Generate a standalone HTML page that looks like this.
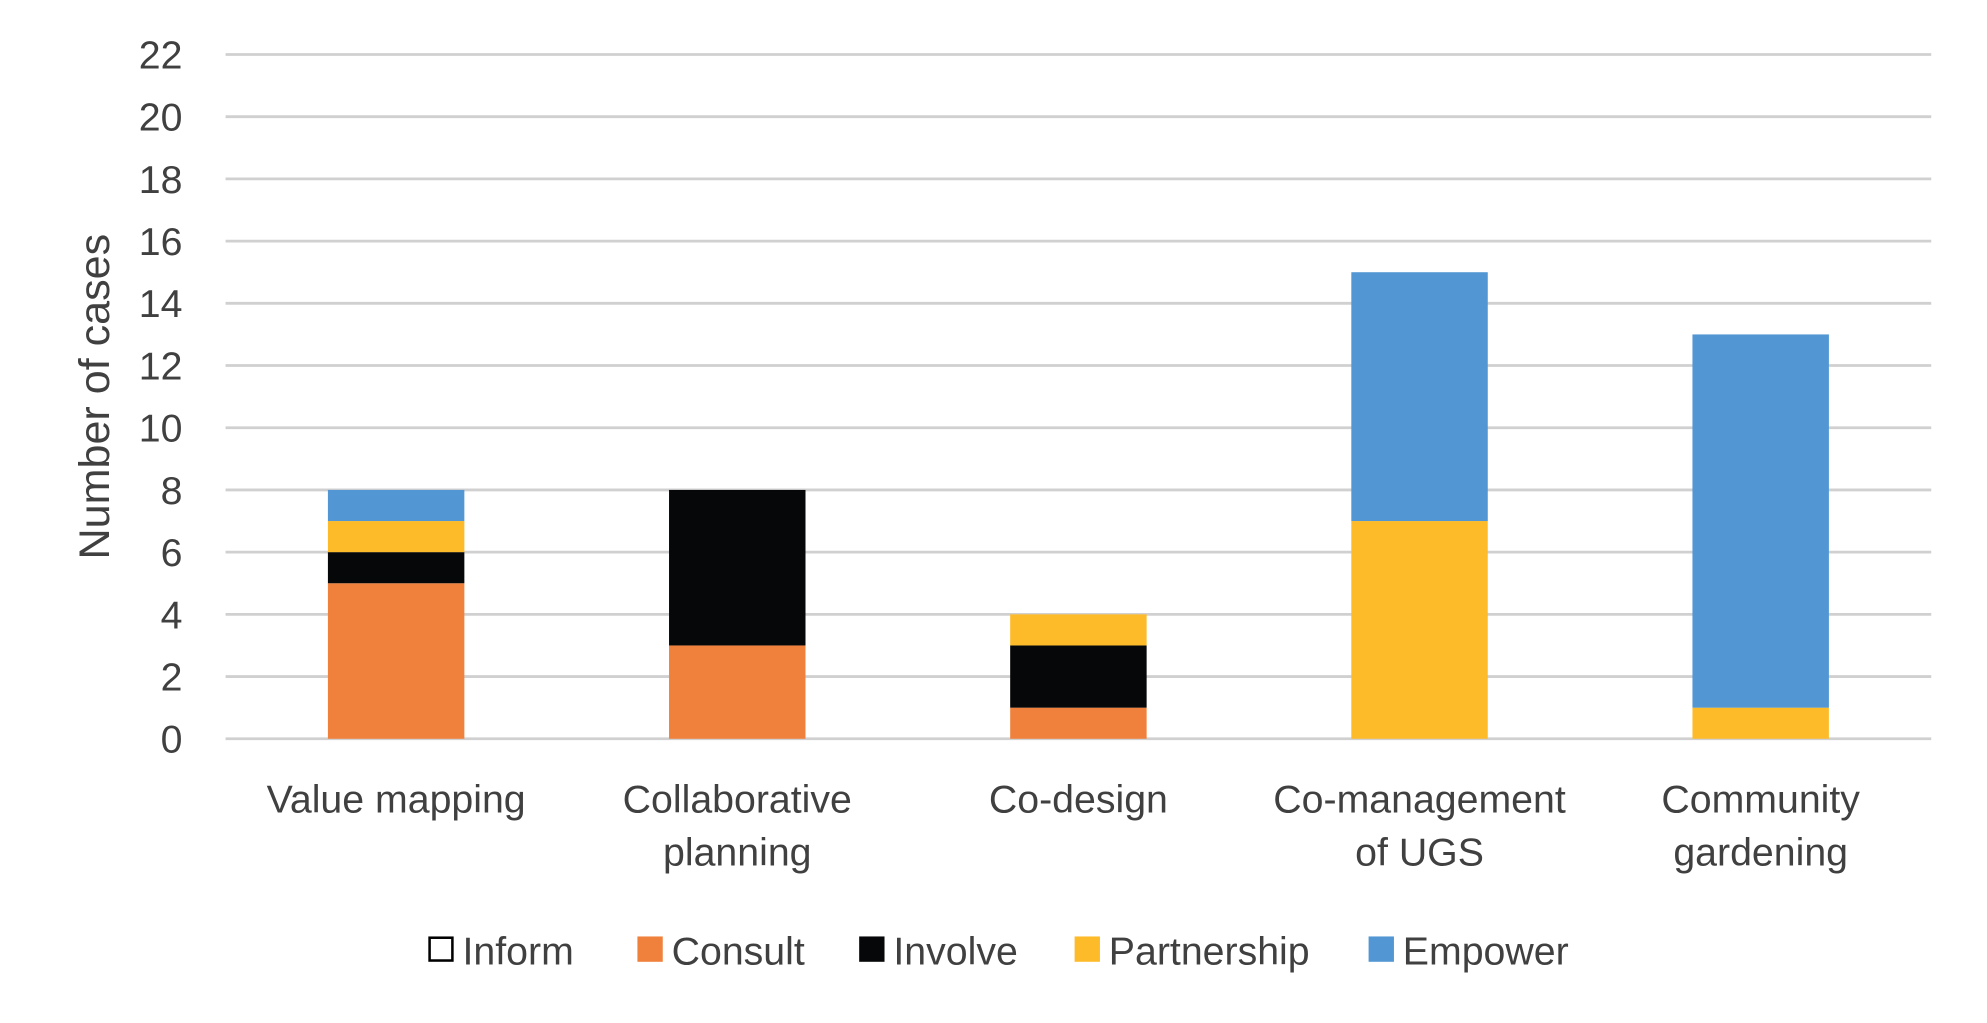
<!DOCTYPE html>
<html><head><meta charset="utf-8"><style>
html,body{margin:0;padding:0;background:#fff;}
svg{display:block;}
text{font-family:"Liberation Sans",sans-serif;fill:#404040;}
</style></head><body>
<svg id="chart" width="1987" height="1023" viewBox="0 0 1568 807.3" preserveAspectRatio="none" xmlns="http://www.w3.org/2000/svg">
<g id="grid"></g>
<g id="yticks"></g>
<g id="bars"></g>
<g id="xlabels"></g>
<text transform="translate(86,313) rotate(-90)" text-anchor="middle" font-size="34">Number of cases</text>
<g id="legend"></g>
</svg>
<script>
const categories = [["Value mapping"],["Collaborative","planning"],["Co-design"],["Co-management","of UGS"],["Community","gardening"]];
const seriesNames = ["Inform","Consult","Involve","Partnership","Empower"];
const inform = [0,0,0,0,0];
const consult = [5,3,1,0,0];
const involve = [1,5,2,0,0];
const partnership = [1,0,1,7,1];
const empower = [1,0,0,8,12];
const yTicks = [0,2,4,6,8,10,12,14,16,18,20,22];

const series = [inform, consult, involve, partnership, empower];
const colors = ["#ffffff","#f0813d","#050708","#fdbb2a","#5297d3"];
const NS = "http://www.w3.org/2000/svg";
const L = 178, R = 1524, Y0 = 583, YTOP = 43, YMAX = 22;
const y = v => Y0 - (v / YMAX) * (Y0 - YTOP);
const band = (R - L) / categories.length;
const xc = i => L + band * (i + 0.5);
const bw = band * 0.4;
function mk(tag, attrs, parent){const e=document.createElementNS(NS,tag);for(const k in attrs)e.setAttribute(k,attrs[k]);parent.appendChild(e);return e;}

const grid = document.getElementById('grid'), yt = document.getElementById('yticks');
yTicks.forEach(t=>{
  const l = mk('line',{x1:L,x2:R,y1:y(t),y2:y(t),stroke:'#d0d0d0','stroke-width':2.2},grid);
  
  
  const tx = mk('text',{x:144,y:y(t)+11,'text-anchor':'end','font-size':31},yt);
  tx.textContent = t;
  
  
});

const bars = document.getElementById('bars');
categories.forEach((c,i)=>{
  let acc = 0;
  series.forEach((s,k)=>{
    const v = s[i];
    if(v>0){
      const r = mk('rect',{x:xc(i)-bw/2,y:y(acc+v),width:bw,height:y(acc)-y(acc+v),fill:colors[k]},bars);
      
      
    }
    acc += v;
  });
});

const xl = document.getElementById('xlabels');
categories.forEach((c,i)=>{
  c.forEach((line,j)=>{
    const t = mk('text',{x:xc(i),y:641+j*42,'text-anchor':'middle','font-size':31},xl);
    t.textContent = line;
    
    
  });
});

const legend = document.getElementById('legend');
const legX = [338,503,678,848,1080];
seriesNames.forEach((n,k)=>{
  const g = mk('g',{},legend);
  
  
  const sw = k===0 ? mk('rect',{x:legX[k]+1,y:740,width:18,height:18,fill:'#fff',stroke:'#000','stroke-width':2},g)
                   : mk('rect',{x:legX[k],y:739,width:20,height:20,fill:colors[k]},g);
  
  
  const t = mk('text',{x:legX[k]+27,y:761,'font-size':31},g);
  t.textContent = n;
  
  
});
</script>
</body></html>
